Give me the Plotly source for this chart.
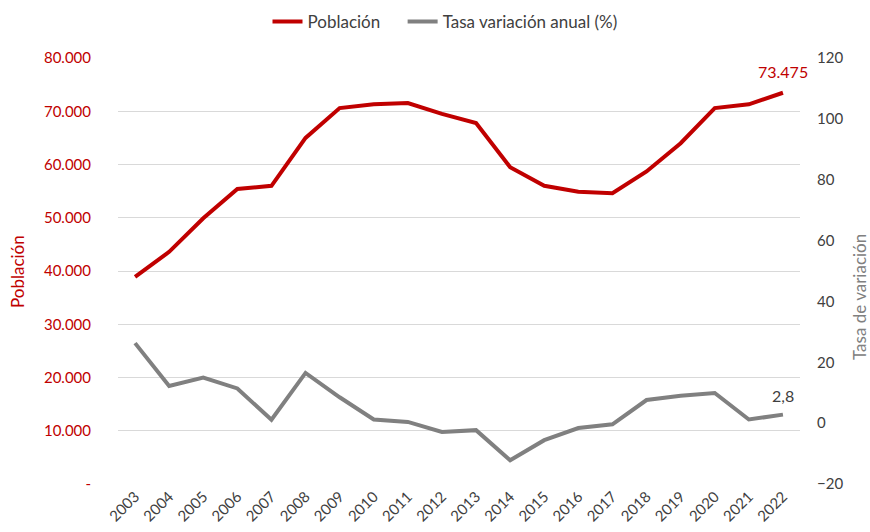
import plotly.graph_objects as go

years = [str(y) for y in range(2003, 2023)]
poblacion = [38900, 43600, 49900, 55400, 56000, 65000, 70600, 71300, 71550, 69500,
             67800, 59500, 56000, 54900, 54600, 58700, 64000, 70600, 71300, 73475]
tasa = [26.3, 12.2, 15.0, 11.4, 1.1, 16.5, 8.5, 1.2, 0.4, -2.9,
        -2.3, -12.2, -5.6, -1.6, -0.4, 7.6, 9.0, 9.9, 1.2, 2.8]

left_ticks = [0, 10000, 20000, 30000, 40000, 50000, 60000, 70000, 80000]
left_ticktext = ["-", "10.000", "20.000", "30.000", "40.000", "50.000", "60.000", "70.000", "80.000"]
right_ticks = [-20, 0, 20, 40, 60, 80, 100, 120]

RED = "#C00000"
GRAY = "#808080"
FONT = "Lato, Carlito, 'Liberation Sans', sans-serif"

W, H = 870, 532
ML, MR, MT, MB = 118, 70, 58, 48
pw, ph = W - ML - MR, H - MT - MB


def px_x(x):
    return (x - ML) / pw


def px_y(y):
    return (H - MB - y) / ph


fig = go.Figure()
fig.add_trace(go.Scatter(x=years, y=poblacion, name="Población\u00a0\u00a0\u00a0\u00a0", mode="lines",
                         line=dict(color=RED, width=4), yaxis="y"))
fig.add_trace(go.Scatter(x=years, y=tasa, name="Tasa variación anual (%)", mode="lines",
                         line=dict(color=GRAY, width=4), yaxis="y2"))

last = len(years) - 1
fig.add_annotation(x=last, y=poblacion[-1], xref="x", yref="y", text="73.475",
                   showarrow=False, yshift=21, font=dict(color=RED, size=16, family=FONT))
fig.add_annotation(x=last, y=tasa[-1], xref="x", yref="y2", text="2,8",
                   showarrow=False, yshift=19, font=dict(color="#404040", size=16, family=FONT))

fig.add_annotation(x=px_x(17), y=px_y(272), xref="paper", yref="paper", text="Población",
                   xanchor="center", yanchor="middle",
                   showarrow=False, textangle=-90, font=dict(size=17, color=RED, family=FONT))
fig.add_annotation(x=px_x(859), y=px_y(297), xref="paper", yref="paper", text="Tasa de variación",
                   xanchor="center", yanchor="middle",
                   showarrow=False, textangle=-90, font=dict(size=17, color=GRAY, family=FONT))

fig.update_layout(
    width=W, height=H,
    margin=dict(l=ML, r=MR, t=MT, b=MB, autoexpand=False),
    paper_bgcolor="white", plot_bgcolor="white",
    font=dict(family=FONT, size=14, color="#404040"),
    showlegend=True,
    legend=dict(orientation="h", x=px_x(445), xanchor="center", y=px_y(4),
                yanchor="top", font=dict(size=17, color="#404040"),
                traceorder="normal"),
    xaxis=dict(type="category", tickangle=-45, showgrid=False, showline=False,
               tickfont=dict(size=15, color="#404040"), ticks="", range=[-0.5, 19.5],
               automargin=False),
    yaxis=dict(range=[0, 80000], tickvals=left_ticks, ticktext=left_ticktext,
               tickfont=dict(size=15, color=RED), showgrid=True, gridcolor="#D9D9D9",
               gridwidth=1, zeroline=False, showline=False, ticklabelstandoff=26,
               automargin=False),
    yaxis2=dict(range=[-20, 120], tickvals=right_ticks, overlaying="y", side="right",
                showgrid=False, zeroline=False, showline=False,
                tickfont=dict(size=15, color="#404040"), ticklabelstandoff=16,
                automargin=False),
)

fig.write_html("out.html", config={"displayModeBar": False},
               post_script="document.body.style.margin='0';document.body.style.overflow='hidden';")
